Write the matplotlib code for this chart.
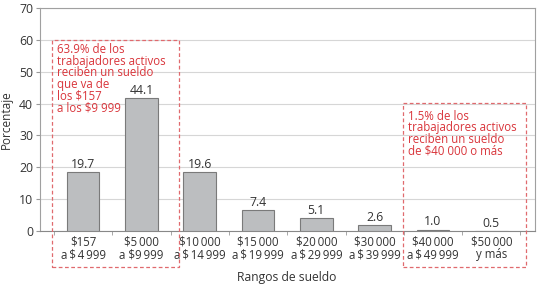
import numpy as np
import matplotlib.pyplot as plt
from matplotlib.patches import Rectangle

plt.rcParams['font.family'] = ['Open Sans', 'DejaVu Sans']

## datos
ts = "\u2009"
rangos = ["$157\na" + ts + "$" + ts + "4" + ts + "999", "$5" + ts + "000\na $9" + ts + "999",
          "$10" + ts + "000\na" + ts + "$" + ts + "14" + ts + "999",
          "$15" + ts + "000\na" + ts + "$" + ts + "19" + ts + "999",
          "$20" + ts + "000\na" + ts + "$" + ts + "29" + ts + "999",
          "$30" + ts + "000\na" + ts + "$" + ts + "39" + ts + "999",
          "$40" + ts + "000\na" + ts + "$" + ts + "49" + ts + "999",
          "$50" + ts + "000\ny más"]
porcentaje = [19.7, 44.1, 19.6, 7.4, 5.1, 2.6, 1.0, 0.5]
# alturas tal como aparecen dibujadas las barras en la figura original
altura = [18.4, 41.6, 18.4, 6.6, 4.0, 1.8, 0.4, 0.05]

nota1 = ["63.9% de los", "trabajadores activos", "reciben un sueldo", "que va de",
         "los $157", "a los $9 999"]
nota2 = ["1.5% de los", "trabajadores activos", "reciben un sueldo", "de $40 000 o más"]

W, H = 538, 285
fig = plt.figure(figsize=(W/100, H/100), dpi=100)
ax = fig.add_axes([40/W, 1-231/H, (535-40)/W, (231-8)/H])

x = np.arange(len(rangos))
ax.bar(x, altura, width=0.56, color='#bcbec0', edgecolor='#7a7a7a', linewidth=0.8, zorder=3)
for xi, h, p in zip(x, altura, porcentaje):
    ax.text(xi, h + 0.4, f"{p:.1f}", ha='center', va='bottom', fontsize=8.8, color='#333333')

ax.set_xlim(-0.74, 7.75)
ax.set_ylim(0, 70)
ax.set_yticks(range(0, 71, 10))
ax.yaxis.grid(True, color='#d6d6d6', linewidth=0.8, zorder=0)
ax.set_xticks(x)
ax.set_xticklabels(rangos, fontsize=8.3, color='#333333', linespacing=1.0)
ax.set_xticks(np.arange(-0.5, 8, 1), minor=True)
ax.tick_params(axis='x', which='major', length=0, pad=3)
ax.tick_params(axis='x', which='minor', length=3, color='#999999')
ax.tick_params(axis='y', length=3, color='#999999', labelsize=8.8, labelcolor='#333333', pad=2)
for s in ax.spines.values():
    s.set_color('#a0a0a0')
    s.set_linewidth(0.8)
ax.spines['bottom'].set_color('#888888')

ax.set_ylabel("Porcentaje", fontsize=8.5, color='#333333', labelpad=4)
fig.text(287/W, 1-277/H, "Rangos de sueldo", ha='center', va='center', fontsize=8.7, color='#333333')

## recuadros rojos punteados
rojo = '#d9353b'
for (x0, y0, x1, y1) in [(52, 40, 179, 267), (403, 103, 526, 267)]:
    fig.add_artist(Rectangle((x0/W, 1-y1/H), (x1-x0)/W, (y1-y0)/H, transform=fig.transFigure,
                             fill=False, edgecolor='#e06a6e', linestyle=(0, (3, 2)), linewidth=0.9))
for i, linea in enumerate(nota1):
    fig.text(57/W, 1-(53 + 11.6*i)/H, linea, ha='left', va='baseline', fontsize=8.3, color=rojo)
for i, linea in enumerate(nota2):
    fig.text(408/W, 1-(120 + 11.4*i)/H, linea, ha='left', va='baseline', fontsize=8.3, color=rojo)

fig.savefig("out.png", dpi=100)
